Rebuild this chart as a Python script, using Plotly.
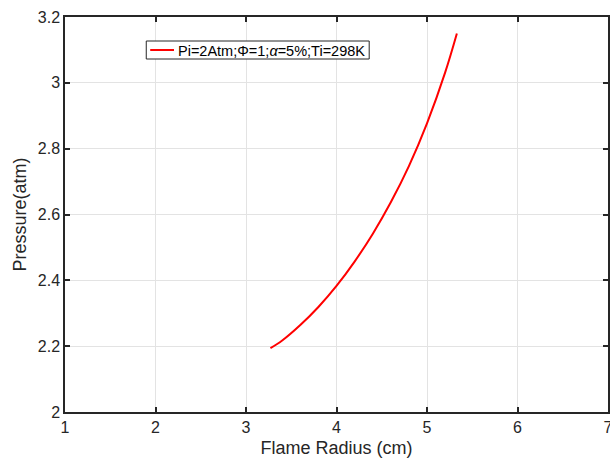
import plotly.graph_objects as go

# Data
radius_cm = [3.27, 3.4, 3.6, 3.8, 4.0, 4.2, 4.4, 4.6, 4.8, 5.0, 5.2, 5.33]
pressure_atm = [2.194, 2.217, 2.264, 2.319, 2.383, 2.457, 2.541, 2.637, 2.747, 2.877, 3.031, 3.150]
series_name = "Pi=2Atm;\u03a6=1;<i>\u03b1</i>=5%;Ti=298K"

x_ticks = [1, 2, 3, 4, 5, 6, 7]
x_ticktext = ["1", "2", "3", "4", "5", "6", "7"]
y_ticks = [2.0, 2.2, 2.4, 2.6, 2.8, 3.0, 3.2]
y_ticktext = ["2", "2.2", "2.4", "2.6", "2.8", "3", "3.2"]

axis_color = "#262626"
grid_color = "#e3e3e3"
line_color = "#ff0000"
font_family = "Liberation Sans, Arial, sans-serif"

# plot-area geometry (pixels)
L, T, W_FIG, H_FIG = 65, 17, 613, 463
PW, PH = 548, 395


def px_x(p):
    return (p - L) / PW


def px_y(p):
    return 1 - (p - T) / PH


fig = go.Figure()
fig.add_trace(go.Scatter(
    x=radius_cm, y=pressure_atm, mode="lines", name=series_name,
    line=dict(color=line_color, width=2, shape="spline", smoothing=1.0),
    showlegend=False,
))

# MATLAB-style legend box
fig.add_shape(type="rect", xref="paper", yref="paper",
              x0=px_x(147), x1=px_x(372), y0=px_y(59), y1=px_y(41),
              line=dict(color=axis_color, width=1), fillcolor="white", layer="above")
fig.add_shape(type="line", xref="paper", yref="paper",
              x0=px_x(151), x1=px_x(175), y0=px_y(50), y1=px_y(50),
              line=dict(color=line_color, width=2), layer="above")
fig.add_annotation(xref="paper", yref="paper", x=px_x(177), y=px_y(50.5),
                   xanchor="left", yanchor="middle", showarrow=False,
                   text=series_name,
                   font=dict(family=font_family, size=14.5, color="#000000"))

fig.update_layout(
    width=W_FIG, height=H_FIG, autosize=False,
    margin=dict(l=L, r=W_FIG - L - PW, t=T, b=H_FIG - T - PH),
    paper_bgcolor="white", plot_bgcolor="white",
    font=dict(family=font_family, color=axis_color, size=16),
)

fig.update_xaxes(
    range=[1, 7], tickvals=x_ticks, ticktext=x_ticktext,
    showgrid=True, gridcolor=grid_color, gridwidth=1,
    showline=True, linecolor=axis_color, linewidth=1.5, mirror="ticks",
    ticks="inside", ticklen=5, tickwidth=1.5, tickcolor=axis_color,
    ticklabeloverflow="allow",
    zeroline=False, tickfont=dict(size=16, color=axis_color),
    title=dict(text="Flame Radius (cm)", font=dict(size=18, color=axis_color), standoff=6),
)
fig.update_yaxes(
    range=[2, 3.2], tickvals=y_ticks, ticktext=y_ticktext,
    showgrid=True, gridcolor=grid_color, gridwidth=1,
    showline=True, linecolor=axis_color, linewidth=1.5, mirror="ticks",
    ticks="inside", ticklen=5, tickwidth=1.5, tickcolor=axis_color,
    ticklabeloverflow="allow",
    zeroline=False, tickfont=dict(size=16, color=axis_color),
    title=dict(text="Pressure(atm)", font=dict(size=18, color=axis_color), standoff=6),
)

fig.write_html("out.html", post_script="document.body.style.overflow='hidden';document.documentElement.style.overflow='hidden';")
